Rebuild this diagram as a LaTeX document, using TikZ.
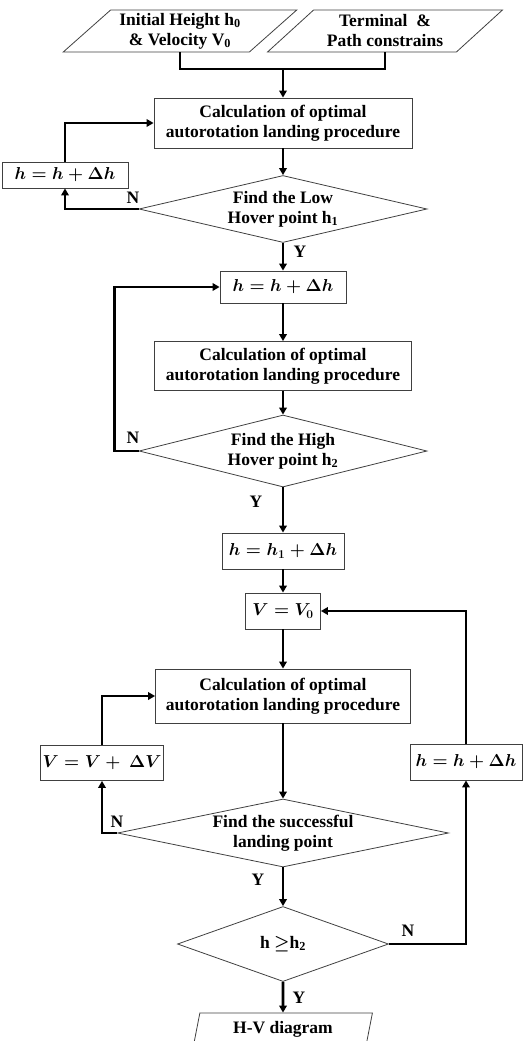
\documentclass[tikz,border=0pt]{standalone}
\usepackage{amsmath}
\usepackage{fontspec}
\setmainfont{Liberation Serif}
\usetikzlibrary{shapes.geometric,arrows.meta}

\begin{document}
\begin{tikzpicture}[x=1pt,y=-1pt,
    every node/.style={font=\fontsize{17.5}{20}\selectfont\bfseries\boldmath},
    proc/.style={draw=black!75, line width=0.8pt, align=center, inner sep=2pt},
    eqbox/.style={proc, font=\fontsize{16.5}{19}\selectfont\bfseries\boldmath},
    decide/.style={draw=black!75, line width=0.8pt, diamond, align=center, inner sep=0pt},
    io/.style={draw=black!75, line width=0.8pt, trapezium, trapezium left angle=42,
        trapezium right angle=138, trapezium stretches=true, align=center, inner sep=1pt},
    flow/.style={-{Triangle[length=7pt,width=7.5pt]}, line width=2.6pt},
    joinline/.style={line width=2.6pt}]

    \useasboundingbox (0,0) rectangle (523,1041);
    \clip (0,0) rectangle (523,1041);

    \node[io, minimum width=234pt, minimum height=42pt] (initial) at (180,31)
        {Initial Height h\textsubscript{0}\\\& Velocity V\textsubscript{0}};
    \node[io, minimum width=235pt, minimum height=42pt] (terminal) at (385,31)
        {Terminal~~\&\\Path constrains};
    \coordinate (merge) at (283,69);

    \node[proc, minimum width=258pt, minimum height=50pt] (calcA) at (283,123)
        {Calculation of optimal\\autorotation landing procedure};
    \node[eqbox, minimum width=126pt, minimum height=26pt] (hincA) at (65,175) {$h = h + \Delta h$};
    \node[decide, aspect=4.3, minimum width=288pt, minimum height=67pt] (dlow) at (283,209)
        {Find the Low\\Hover point h\textsubscript{1}};

    \node[eqbox, minimum width=126pt, minimum height=32pt] (hincB) at (283,287) {$h = h + \Delta h$};
    \node[proc, minimum width=257pt, minimum height=49pt] (calcB) at (283,366)
        {Calculation of optimal\\autorotation landing procedure};
    \node[decide, aspect=4, minimum width=288pt, minimum height=72pt] (dhigh) at (283,451)
        {Find the High\\Hover point h\textsubscript{2}};

    \node[eqbox, minimum width=122pt, minimum height=36pt] (hset) at (283,551) {$h = h_1 + \Delta h$};
    \node[eqbox, minimum width=75pt, minimum height=36pt] (vset) at (283,611) {$V = V_0$};
    \node[proc, minimum width=255pt, minimum height=54pt] (calcC) at (283,696)
        {Calculation of optimal\\autorotation landing procedure};
    \node[eqbox, minimum width=118pt, minimum height=35pt] (vinc) at (102,763) {$V = V +\ \Delta V$};
    \node[eqbox, minimum width=112pt, minimum height=36pt] (hincC) at (466,762) {$h = h + \Delta h$};
    \node[decide, aspect=4.87, minimum width=331pt, minimum height=68pt] (dsucc) at (283,833)
        {Find the successful\\landing point};
    \node[decide, aspect=2.8, minimum width=211pt, minimum height=75pt] (dcheck) at (283,944)
        {h $\geq$h\textsubscript{2}};
    \node[io, trapezium left angle=78, trapezium right angle=102,
        minimum width=179pt, minimum height=32pt] (hv) at (283,1029) {H-V diagram};

    % yes / no marks
    \node (nlow) at (133,198) {N};
    \node (ylow) at (300,252) {Y};
    \node (nhigh) at (133,438) {N};
    \node (yhigh) at (256,502) {Y};
    \node (nsucc) at (117,822) {N};
    \node (ysucc) at (258,880) {Y};
    \node (ncheck) at (408,931) {N};
    \node (ycheck) at (299,998) {Y};

    \draw[joinline] (initial.south) |- (merge) -| (terminal.south);
    \draw[flow] (merge) -- (calcA.north);
    \draw[flow] (calcA.south) -- (dlow.north);
    \draw[flow] (dlow.west) -| (hincA.south);
    \draw[flow] (hincA.north) |- (calcA.west);

    \draw[flow] (dlow.south) -- (hincB.north);
    \draw[flow] (hincB.south) -- (calcB.north);
    \draw[flow] (calcB.south) -- (dhigh.north);
    \draw[flow] (dhigh.west) -- ++(-24,0) |- (hincB.west);

    \draw[flow] (dhigh.south) -- (hset.north);
    \draw[flow] (hset.south) -- (vset.north);
    \draw[flow] (vset.south) -- (calcC.north);
    \draw[flow] (calcC.south) -- (dsucc.north);
    \draw[flow] (dsucc.west) -| (vinc.south);
    \draw[flow] (vinc.north) |- (calcC.west);

    \draw[flow] (dsucc.south) -- (dcheck.north);
    \draw[flow] (dcheck.east) -| (hincC.south);
    \draw[flow] (hincC.north) |- (vset.east);
    \draw[flow] (dcheck.south) -- (hv.north);

\end{tikzpicture}
\end{document}
